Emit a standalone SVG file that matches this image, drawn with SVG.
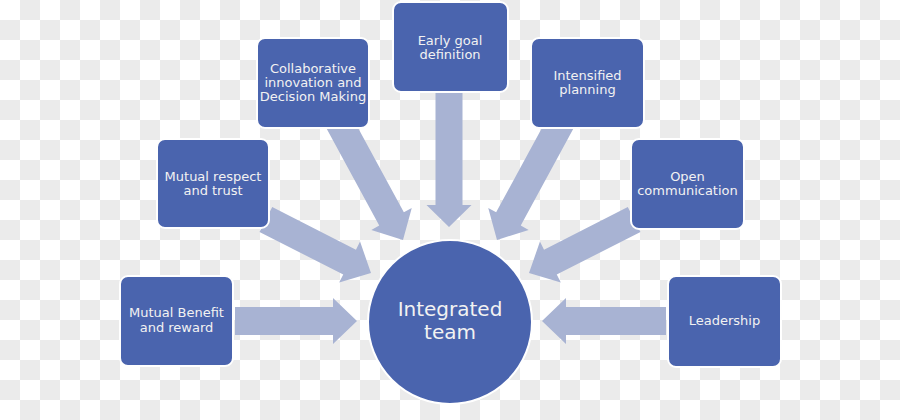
<svg xmlns="http://www.w3.org/2000/svg" width="900" height="420" viewBox="0 0 900 420">
<style>
.box{fill:#4a64ae;stroke:#ffffff;stroke-width:2}
.arr{fill:#a8b3d3}
.t{font-family:"DejaVu Sans",sans-serif;font-size:13px;fill:#f2f2f2;text-anchor:middle}
.tc{font-family:"DejaVu Sans",sans-serif;font-size:20px;fill:#f2f2f2;text-anchor:middle}
</style>
<defs>
<pattern id="chk" width="40" height="40" patternUnits="userSpaceOnUse">
<rect width="40" height="40" fill="#ffffff"/>
<rect x="20" y="0" width="20" height="20" fill="#ebebeb"/>
<rect x="0" y="20" width="20" height="20" fill="#ebebeb"/>
</pattern>
</defs>
<rect width="900" height="420" fill="url(#chk)"/>
<g id="connectors">
<path class="arr" transform="translate(357,321)" d="M0,0 L-24,-23 L-24,-14 L-122,-14 L-122,14 L-24,14 L-24,23 Z"/>
<path class="arr" transform="translate(542,321) rotate(180)" d="M0,0 L-24,-23 L-24,-14 L-124,-14 L-124,14 L-24,14 L-24,23 Z"/>
<path class="arr" transform="translate(449,227) rotate(90)" d="M0,0 L-22,-22.5 L-22,-13.5 L-135,-13.5 L-135,13.5 L-22,13.5 L-22,22.5 Z"/>
<path class="arr" transform="translate(403,240) rotate(61.5)" d="M0,0 L-24,-23 L-24,-14 L-135,-14 L-135,14 L-24,14 L-24,23 Z"/>
<path class="arr" transform="translate(497,240) rotate(118.5)" d="M0,0 L-24,-23 L-24,-14 L-135,-14 L-135,14 L-24,14 L-24,23 Z"/>
<path class="arr" transform="translate(371,273) rotate(27)" d="M0,0 L-24,-23 L-24,-14 L-118,-14 L-118,14 L-24,14 L-24,23 Z"/>
<path class="arr" transform="translate(529,273) rotate(153)" d="M0,0 L-24,-23 L-24,-14 L-118,-14 L-118,14 L-24,14 L-24,23 Z"/>
</g>
<g id="node-center">
<circle class="box" cx="450" cy="322" r="82"/>
<text class="tc" x="450" y="316">Integrated</text>
<text class="tc" x="450" y="339">team</text>
</g>
<g id="node-benefit">
<rect class="box" x="120" y="276" width="113" height="90" rx="8"/>
<text class="t" x="176.5" y="317">Mutual Benefit</text>
<text class="t" x="176.5" y="332">and reward</text>
</g>
<g id="node-respect">
<rect class="box" x="157" y="139" width="112" height="89" rx="8"/>
<text class="t" x="213" y="181">Mutual respect</text>
<text class="t" x="213" y="195">and trust</text>
</g>
<g id="node-collab">
<rect class="box" x="257" y="38" width="112" height="90" rx="8"/>
<text class="t" x="313" y="73">Collaborative</text>
<text class="t" x="313" y="87">innovation and</text>
<text class="t" x="313" y="101">Decision Making</text>
</g>
<g id="node-goal">
<rect class="box" x="393" y="2" width="115" height="90" rx="8"/>
<text class="t" x="450" y="45">Early goal</text>
<text class="t" x="450" y="59">definition</text>
</g>
<g id="node-planning">
<rect class="box" x="531" y="38" width="113" height="90" rx="8"/>
<text class="t" x="587.5" y="80">Intensified</text>
<text class="t" x="587.5" y="94">planning</text>
</g>
<g id="node-comm">
<rect class="box" x="631" y="139" width="113" height="90" rx="8"/>
<text class="t" x="687.5" y="181">Open</text>
<text class="t" x="687.5" y="195">communication</text>
</g>
<g id="node-leadership">
<rect class="box" x="668" y="276" width="113" height="91" rx="8"/>
<text class="t" x="724.5" y="325">Leadership</text>
</g>
</svg>
